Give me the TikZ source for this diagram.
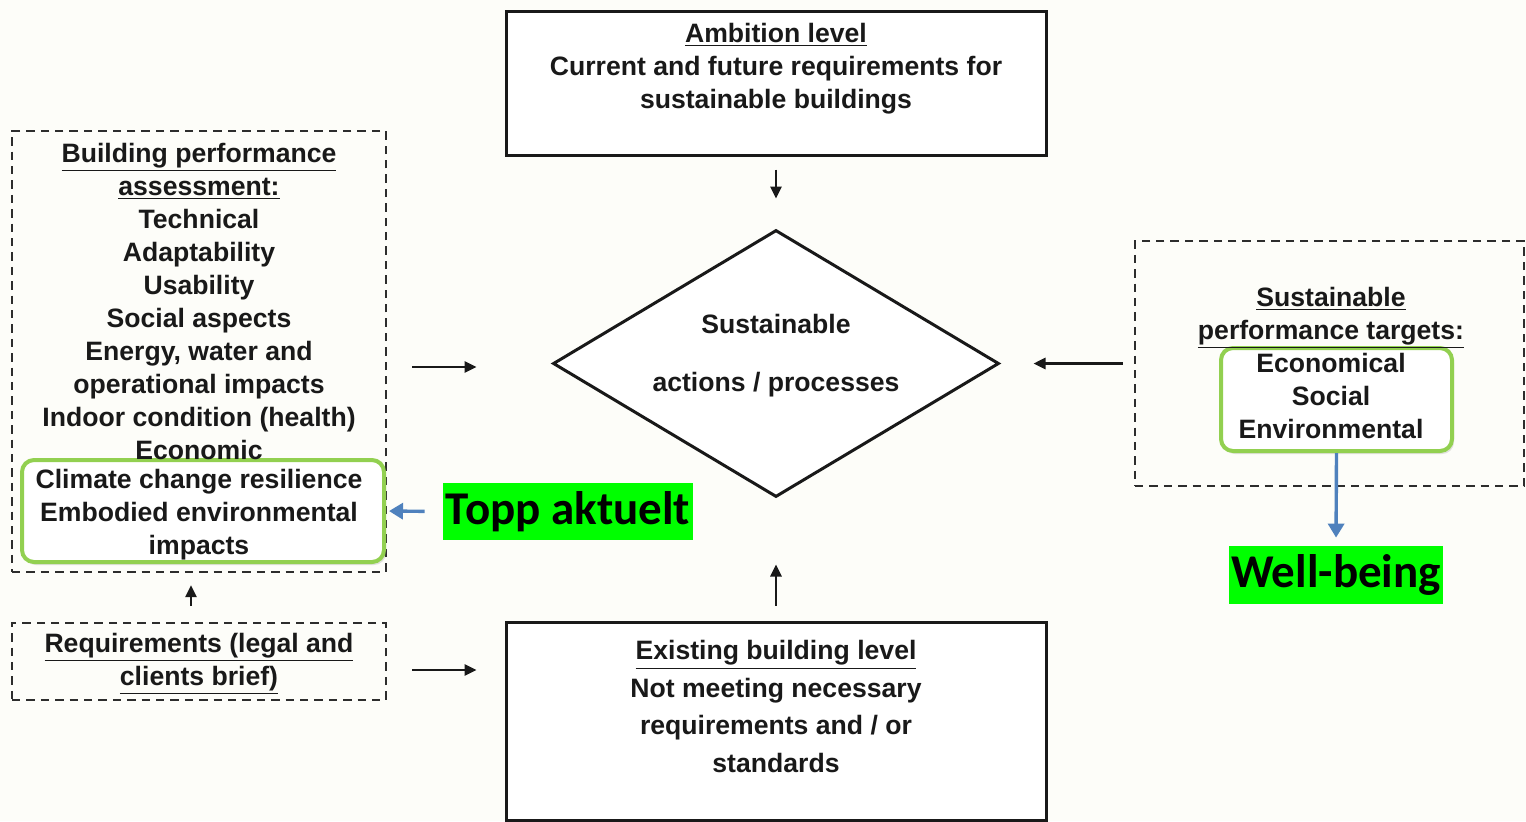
\documentclass[tikz,border=0pt]{standalone}
\usepackage{fontspec}
\setmainfont{Liberation Sans}
\newfontfamily\calibri{Carlito}
\usetikzlibrary{arrows.meta,shapes.geometric,shadows}

\definecolor{paper}{RGB}{253,253,249}
\definecolor{leaf}{RGB}{146,208,80}
\definecolor{steel}{RGB}{79,129,189}
\definecolor{lime}{RGB}{0,255,0}
\definecolor{ink}{RGB}{25,25,25}
\definecolor{dashgray}{RGB}{45,45,45}

\tikzset{
  solidbox/.style={draw=ink, line width=1.5pt, fill=white, inner sep=0pt, minimum width=270pt},
  dashbox/.style={draw=dashgray, line width=1.2pt, dash pattern=on 4.2pt off 3pt, inner sep=0pt},
  greenbox/.style={draw=leaf, line width=2pt, rounded corners=6pt, fill=white, inner sep=0pt,
    drop shadow={opacity=0.22, shadow xshift=1pt, shadow yshift=-1.5pt}},
  txt/.style={font=\bfseries\fontsize{13.3}{16.5}\selectfont, text=ink, align=center, inner sep=0pt},
  tag/.style={fill=lime, font=\calibri\bfseries\fontsize{23.5}{26}\selectfont, text=black, inner sep=0pt},
  arr/.style={draw=ink, line width=1.3pt, -{Triangle[length=6pt, width=5.5pt]}},
  bluearr/.style={draw=steel, line width=1.7pt, -{Triangle[length=7pt, width=8pt]}}
}

\begin{document}
\begin{tikzpicture}[x=0.5pt, y=-0.5pt]
  % canvas
  \useasboundingbox (0,0) rectangle (1526,821);
  \fill[paper] (0,0) rectangle (1526,821);

  % frames
  \node[solidbox, minimum height=72pt] (ambition) at (776,83) {};
  \node[solidbox, minimum height=99pt] (existing) at (776,721) {};
  \node[dashbox, minimum width=187pt, minimum height=220.5pt] (assess) at (199,351.5) {};
  \node[dashbox, minimum width=187pt, minimum height=38.5pt] (req) at (199,661.5) {};
  \node[dashbox, minimum width=194.5pt, minimum height=122.5pt] (targets) at (1329.5,363.5) {};
  \node[draw=ink, line width=1.5pt, fill=white, shape=diamond, inner sep=0pt,
        minimum width=223pt, minimum height=133.5pt] (core) at (776,363.5) {};
  \node[greenbox, minimum width=181pt, minimum height=51pt] (newitems) at (203,511) {};
  \node[greenbox, minimum width=115.5pt, minimum height=51.5pt] (pillars) at (1336.5,399.5) {};

  % texts
  \node[txt] (ambitiontext) at (776,69)
    {\underline{Ambition level}\\Current and future requirements for\\sustainable buildings};
  \node[txt, font=\bfseries\fontsize{13.3}{18.8}\selectfont] (existingtext) at (776,706.5)
    {\underline{Existing building level}\\Not meeting necessary\\requirements and / or\\standards};
  \node[txt] (assesstext) at (199,301)
    {\underline{Building performance}\\\underline{assessment:}\\Technical\\Adaptability\\Usability\\Social aspects\\
     Energy, water and\\operational impacts\\Indoor condition (health)\\Economic};
  \node[txt] (newtext) at (199,514.5)
    {Climate change resilience\\Embodied environmental\\impacts};
  \node[txt] (reqtext) at (199,664)
    {\underline{Requirements (legal and}\\\underline{clients brief)}};
  \node[txt] (targetstext) at (1331,318)
    {\underline{Sustainable}\\\underline{performance targets:}};
  \node[txt] (pillarstext) at (1331,396)
    {Economical\\Social\\Environmental};
  \node[txt, font=\bfseries\fontsize{13.3}{29}\selectfont] (coretext) at (776,356)
    {Sustainable\\actions / processes};

  % highlighted tags
  \node[tag, minimum width=125pt, minimum height=28.5pt] (topp) at (568,511.5) {Topp aktuelt};
  \node[tag, minimum width=107pt, minimum height=29pt] (wellbeing) at (1336,575) {Well-being};

  % connectors
  \draw[arr, shorten <=6.5pt, shorten >=15pt] (ambition.south) -- (core.north);
  \draw[arr, shorten <=7.5pt, shorten >=33pt] (existing.north) -- (core.south);
  \coordinate (assessout) at (386,367);
  \draw[arr, shorten <=13pt, shorten >=37.5pt] (assessout) -- (assessout -| core.west);
  \draw[arr, shorten <=5.5pt, shorten >=16.5pt] (targets.west) -- (core.east);
  \coordinate (reqout) at (386,670);
  \draw[arr, shorten <=13pt, shorten >=14pt] (reqout) -- (reqout -| existing.west);
  \coordinate (requp) at (191,623);
  \draw[arr, shorten <=8.5pt, shorten >=6pt] (requp) -- (requp |- assess.south);
  \draw[bluearr, shorten <=9pt, shorten >=1.5pt] (topp.west) -- (newitems.east);
  \draw[bluearr, shorten <=0pt, shorten >=4pt] (pillars.south) -- (wellbeing.north);
\end{tikzpicture}
\end{document}
